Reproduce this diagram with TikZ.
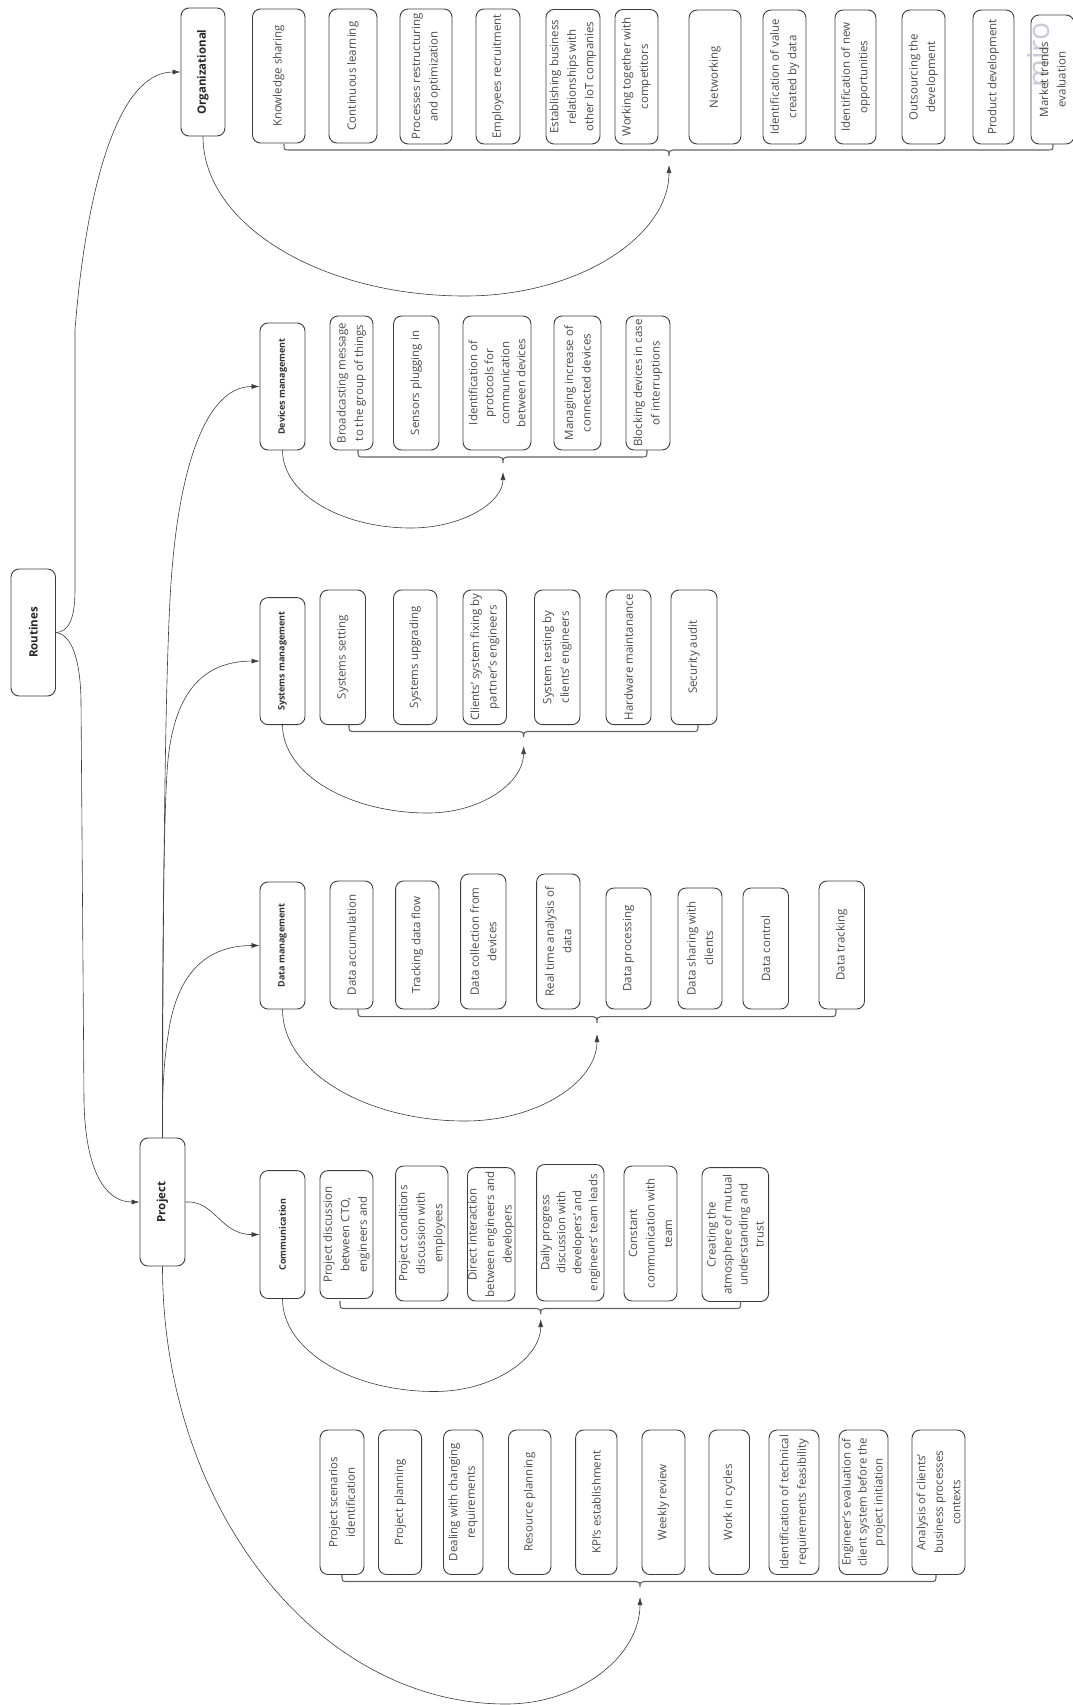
\documentclass[tikz,border=0pt]{standalone}
\usepackage{fontspec}
\setmainfont{Open Sans}
\usetikzlibrary{arrows.meta}
\definecolor{ln}{HTML}{3C3C3C}
\definecolor{tx}{HTML}{4A4A4A}
\definecolor{wm}{HTML}{C9C9D8}
\tikzset{
 boxbase/.style={draw=ln,line width=.9pt,rounded corners=8pt,rotate=90,inner sep=0pt,align=center,text=tx},
 item/.style={boxbase,font=\fontsize{11.5}{17.5}\selectfont},
 itemtight/.style={boxbase,font=\fontsize{11.5}{16}\selectfont},
 head/.style={boxbase,text=black!80,font=\fontsize{9}{11}\selectfont\bfseries},
 main/.style={boxbase,text=black!85,font=\fontsize{11.5}{14}\selectfont\bfseries},
 bracket/.style={draw=ln!80,line width=1.1pt},
 conn/.style={draw=ln,line width=.6pt},
 arr/.style={conn,-{Latex[length=8pt,width=5pt]}},
}
% style, name, x1, y1, x2, y2, text
\newcommand{\abox}[7]{\node[#1,minimum width={(#6-#4)*1pt},minimum height={(#5-#3)*1pt}] (#2) at ({(#3+#5)/2},{(#4+#6)/2}) {#7};}
% tip name, x1, xtip, x2, ybox, ybar, ytip, yarrow
\newcommand{\brc}[8]{%
 \coordinate (#1) at (#3,#8);
 \draw[bracket] (#2,#5) .. controls (#2,#6) and (#2,#6) .. ({#2+6},#6) -- ({#3-4},#6)
  .. controls ({#3-1},#6) and (#3,{#6+1}) .. (#3,#7) .. controls (#3,{#6+1}) and ({#3+1},#6) .. ({#3+4},#6)
  -- ({#4-6},#6) .. controls (#4,#6) and (#4,#6) .. (#4,#5);}
% start, tip, bottom x, bottom y, left w, left h, right w, right h
\newcommand{\swoop}[8]{\draw[arr] (#1) .. controls +(0,{.55*#6}) and +({-.55*#5},0) .. (#3,#4) .. controls +({.55*#7},0) and +(0,{.55*#8}) .. (#2);}
\begin{document}
\begin{tikzpicture}[x=1pt,y=-1pt]
\useasboundingbox (0,0) rectangle (1073,1705);
% Top-level
\abox{main}{routines}{11}{569}{55.5}{696}{Routines}
\abox{main}{org}{181}{8}{225}{136}{Organizational}
\abox{main}{project}{140}{1138}{185}{1266}{Project}
% Heads
\abox{head}{devices}{260}{323}{305}{450}{Devices management}
\abox{head}{systems}{260}{597.6}{305}{724.6}{Systems management}
\abox{head}{data}{260}{882}{305}{1009}{Data management}
\abox{head}{comm}{260}{1170.6}{305}{1298.5}{Communication}
% Organizational
\abox{item}{o1}{252.5}{9}{305}{143}{Knowledge sharing}
\abox{item}{o2}{329}{9}{377}{143}{Continuous learning}
\abox{item}{o3}{400}{9}{452}{144}{Processes restructuring\\and optimization}
\abox{item}{o4}{476}{9}{520}{144}{Employees recruitment}
\abox{item}{o5}{546}{9.5}{600}{144}{Establishing business\\relationships with\\other IoT companies}
\abox{item}{o6}{615}{9.5}{658}{144}{Working together with\\competitors}
\abox{item}{o7}{689}{10}{741}{144}{Networking}
\abox{item}{o8}{763}{10}{806}{144}{Identification of value\\created by data}
\abox{item}{o9}{835}{10}{876}{144}{Identification of new\\opportunities}
\abox{item}{o10}{902}{10}{945}{144}{Outsourcing the\\development}
\abox{item}{o11}{973}{10}{1014}{144}{Product development}
\node[rotate=90,text=wm,font=\fontsize{30}{30}\selectfont,inner sep=0pt] (miro) at (1039,55) {miro};
\abox{item}{o12}{1031}{15}{1074}{144}{Market trends\\evaluation}
% Devices
\abox{item}{d1}{330}{316}{373}{450}{Broadcasting message\\to the group of things}
\abox{item}{d2}{393.5}{316}{439}{450}{Sensors plugging in}
\abox{itemtight}{d3}{463}{316}{531}{450}{Identification of\\protocols for\\communication\\between devices}
\abox{item}{d4}{554}{316}{601}{450}{Managing increase of\\connected devices}
\abox{item}{d5}{626}{316}{670}{450}{Blocking devices in case\\of interruptions}
% Systems
\abox{item}{s1}{320}{590}{365.5}{724.6}{Systems setting}
\abox{item}{s2}{393.5}{590}{437}{724.6}{Systems upgrading}
\abox{item}{s3}{463}{590}{506.5}{724.6}{Clients' system fixing by\\partner's engineers}
\abox{item}{s4}{534.5}{590}{580}{724.6}{System testing by\\clients' engineers}
\abox{item}{s5}{606}{590}{651}{724.6}{Hardware maintanance}
\abox{item}{s6}{671}{590}{717}{724.6}{Security audit}
% Data
\abox{item}{t1}{330}{881}{373}{1009}{Data accumulation}
\abox{item}{t2}{395.6}{881}{439}{1009}{Tracking data flow}
\abox{item}{t3}{460.6}{874}{506}{1009}{Data collection from\\devices}
\abox{item}{t4}{536.6}{874}{580}{1009}{Real time analysis of\\data}
\abox{item}{t5}{606}{888}{651}{1009}{Data processing}
\abox{item}{t6}{678}{888}{722}{1009}{Data sharing with\\clients}
\abox{item}{t7}{743}{888}{788.5}{1009}{Data control}
\abox{item}{t8}{819}{881}{864.5}{1009}{Data tracking}
% Communication
\abox{item}{c1}{320}{1170.6}{373}{1298.5}{Project discussion\\between CTO,\\engineers and}
\abox{item}{c2}{395.6}{1166}{448}{1301}{Project conditions\\discussion with\\employees}
\abox{item}{c3}{467.5}{1167.6}{515}{1301}{Direct interaction\\between engineers and\\developers}
\abox{itemtight}{c4}{536.6}{1164.5}{604}{1301}{Daily progress\\discussion with\\developers' and\\engineers' team leads}
\abox{item}{c5}{624}{1166}{677}{1301}{Constant\\communication with\\team}
\abox{itemtight}{c6}{702}{1167.6}{768.6}{1301.5}{Creating the\\atmosphere of mutual\\understanding  and\\trust}
% Project
\abox{item}{p1}{320}{1430}{364}{1574.5}{Project scenarios\\identification}
\abox{item}{p2}{378.5}{1430}{421.6}{1574.5}{Project planning}
\abox{item}{p3}{443.5}{1430}{483}{1574.5}{Dealing with changing\\requirements}
\abox{item}{p4}{508.5}{1430}{551}{1574.5}{Resource planning}
\abox{item}{p5}{575.6}{1430}{617}{1574.5}{KPI's establishment}
\abox{item}{p6}{642}{1430}{685}{1574.5}{Weekly review}
\abox{item}{p7}{709}{1430}{749.5}{1574.5}{Work in cycles}
\abox{item}{p8}{769}{1430}{819}{1574.5}{Identification of technical\\requirements feasibility}
\abox{itemtight}{p9}{839}{1430}{888}{1574.5}{Engineer's evaluation of\\client system before the\\project initiation}
\abox{item}{p10}{912}{1430}{965}{1574.5}{Analysis of clients'\\business processes\\contexts}
% Braces
\brc{torg}{284}{669}{1053}{144}{150}{156}{165}
\brc{tdev}{358}{503}{647}{450}{457}{463}{472}
\brc{tsys}{349}{523.6}{698}{724.6}{731.5}{737}{746}
\brc{tdat}{358}{597}{836}{1009}{1016.6}{1023}{1034}
\brc{tcom}{340}{540.7}{740.6}{1301}{1308.5}{1314}{1319}
\brc{tpro}{342}{640}{936}{1574.5}{1581.5}{1587}{1597}
% Swoops
\swoop{org.west}{torg}{465}{296}{262}{160}{204}{131}
\swoop{devices.west}{tdev}{411}{528}{128}{78}{92}{56}
\swoop{systems.west}{tsys}{428}{813}{145}{88}{96}{67}
\swoop{data.west}{tdat}{465}{1121}{182}{112}{132}{87}
\swoop{comm.west}{tcom}{434.6}{1391.5}{152}{93}{106}{72}
\swoop{project.west}{tpro}{506}{1704}{344}{438}{134}{107}
% Routines
\draw[arr] (routines.south) .. controls (68,632) and (75,620) .. (75,590) -- (75,330) .. controls (85,200) and (115,72) .. (org.north);
\draw[arr] (routines.south) .. controls (68,634) and (80,650) .. (81,700) -- (84,1100) .. controls (85,1170) and (105,1202) .. (project.north);
% Project branches
\draw[arr] (project.east) .. controls (162,950) and (164,800) .. (168,760) .. controls (175,690) and (205,661) .. (systems.north);
\draw[arr] (project.east) .. controls (163,900) and (165,650) .. (172,570) .. controls (180,470) and (205,386.5) .. (devices.north);
\draw[arr] (project.east) .. controls (162,1090) and (164,1060) .. (168,1036) .. controls (176,975) and (205,945.5) .. (data.north);
\draw[arr] (project.south) .. controls (215,1200) and (220,1234.5) .. (comm.north);
\end{tikzpicture}
\end{document}
